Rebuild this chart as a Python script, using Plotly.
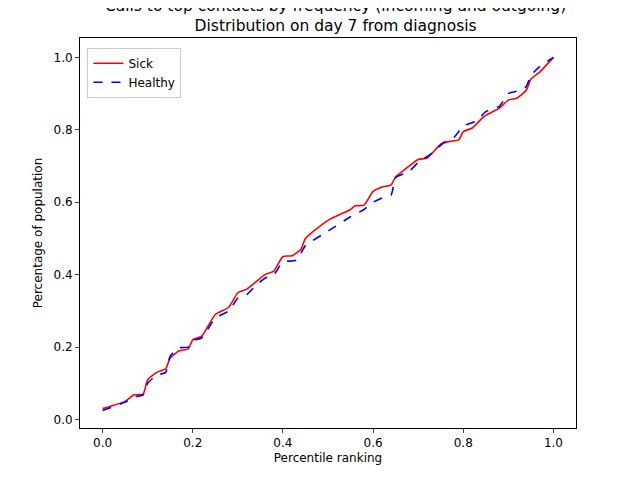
import plotly.graph_objects as go

sick_x = [0, 0.05, 0.07, 0.09, 0.1, 0.12, 0.14, 0.15, 0.17, 0.19, 0.2, 0.22, 0.25, 0.28, 0.3, 0.32, 0.34, 0.36, 0.38, 0.4, 0.42, 0.44, 0.45, 0.5, 0.55, 0.56, 0.58, 0.6, 0.62, 0.64, 0.65, 0.67, 0.7, 0.72, 0.75, 0.77, 0.79, 0.8, 0.82, 0.84, 0.85, 0.88, 0.9, 0.92, 0.94, 0.95, 0.97, 1.0]
sick_y = [0.03, 0.05, 0.068, 0.07, 0.11, 0.13, 0.14, 0.17, 0.19, 0.195, 0.22, 0.23, 0.29, 0.31, 0.35, 0.36, 0.38, 0.4, 0.41, 0.45, 0.452, 0.47, 0.5, 0.55, 0.58, 0.59, 0.592, 0.63, 0.642, 0.648, 0.67, 0.69, 0.718, 0.722, 0.76, 0.768, 0.772, 0.795, 0.805, 0.83, 0.84, 0.86, 0.882, 0.888, 0.91, 0.94, 0.96, 1.0]
healthy_x = [0, 0.05, 0.07, 0.09, 0.1, 0.12, 0.14, 0.15, 0.17, 0.19, 0.2, 0.22, 0.25, 0.28, 0.3, 0.32, 0.34, 0.36, 0.38, 0.4, 0.43, 0.45, 0.5, 0.55, 0.58, 0.6, 0.62, 0.64, 0.65, 0.68, 0.7, 0.73, 0.76, 0.78, 0.8, 0.83, 0.85, 0.88, 0.9, 0.93, 0.94, 0.95, 0.97, 1.0]
healthy_y = [0.025, 0.048, 0.062, 0.068, 0.1, 0.122, 0.13, 0.175, 0.198, 0.2, 0.218, 0.225, 0.28, 0.3, 0.335, 0.345, 0.37, 0.39, 0.4, 0.435, 0.44, 0.48, 0.52, 0.56, 0.58, 0.6, 0.612, 0.62, 0.668, 0.685, 0.71, 0.735, 0.768, 0.78, 0.81, 0.825, 0.85, 0.865, 0.9, 0.91, 0.92, 0.95, 0.975, 1.0]

fig = go.Figure()
fig.add_trace(go.Scatter(x=sick_x, y=sick_y, mode="lines", name="Sick",
                         line=dict(color="red", width=1.6, shape="spline", smoothing=0.5)))
fig.add_trace(go.Scatter(x=healthy_x, y=healthy_y, mode="lines", name="Healthy",
                         line=dict(color="blue", width=1.6, dash="dash", shape="spline", smoothing=0.5)))
ax = dict(showline=True, linecolor="black", mirror=True, ticks="outside", ticklen=4,
          showgrid=False, zeroline=False, tickfont=dict(size=12, color="black"))
fig.update_layout(
    width=624, height=464, plot_bgcolor="white", paper_bgcolor="white",
    margin=dict(l=72, r=56, t=30, b=44, autoexpand=False),
    font=dict(family="DejaVu Sans", color="black"),
    title=dict(text="Calls to top contacts by frequency (incoming and outgoing)<br>Distribution on day 7 from diagnosis",
               x=0.525, xanchor="center", yref="container", y=1 - 3/464, yanchor="top", font=dict(size=15.5)),
    xaxis=dict(**ax, range=[-0.05, 1.05], tickvals=[0, 0.2, 0.4, 0.6, 0.8, 1.0], tickformat=".1f",
               title=dict(text="Percentile ranking", font=dict(size=12), standoff=4)),
    yaxis=dict(**ax, range=[-0.0235, 1.0535], tickvals=[0, 0.2, 0.4, 0.6, 0.8, 1.0], tickformat=".1f",
               title=dict(text="Percentage of population", font=dict(size=12), standoff=8)),
    legend=dict(x=0.015, y=0.975, xanchor="left", yanchor="top", bordercolor="#ccc", borderwidth=1,
                font=dict(size=12), bgcolor="white"),
)
fig.write_html("out.html")
